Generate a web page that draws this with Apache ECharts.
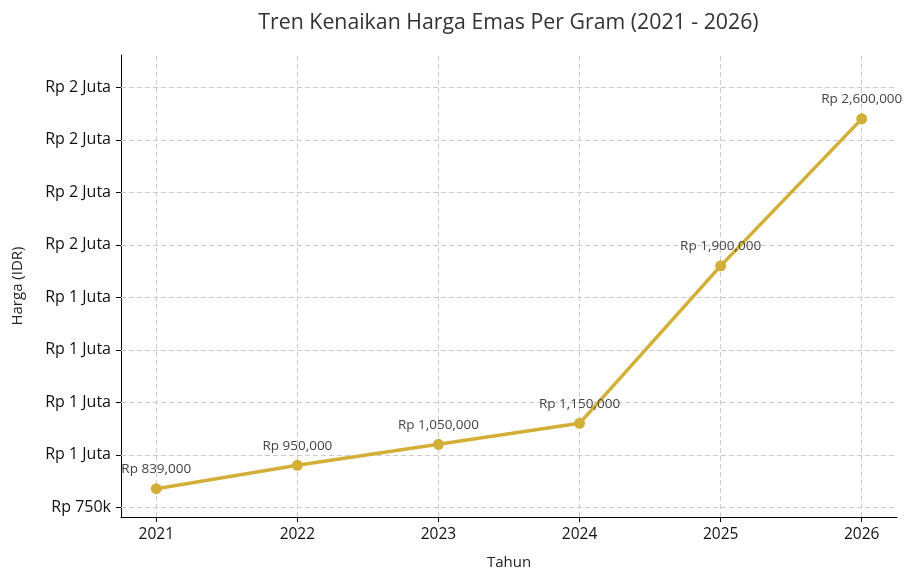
<!DOCTYPE html>
<html>
<head>
<meta charset="utf-8">
<script src="https://cdn.jsdelivr.net/npm/echarts@6/dist/echarts.min.js"></script>
<style>
html,body{margin:0;padding:0;background:#fff;}
#c{width:913px;height:583px;}
</style>
</head>
<body>
<div id="c"></div>
<script>
const years = [2021, 2022, 2023, 2024, 2025, 2026];
const prices = [839000, 950000, 1050000, 1150000, 1900000, 2600000];
const yTickValues = [750000, 1000000, 1250000, 1500000, 1750000, 2000000, 2250000, 2500000, 2750000];
const yTickLabels = ['Rp 750k', 'Rp 1 Juta', 'Rp 1 Juta', 'Rp 1 Juta', 'Rp 1 Juta', 'Rp 2 Juta', 'Rp 2 Juta', 'Rp 2 Juta', 'Rp 2 Juta'];
const titleText = 'Tren Kenaikan Harga Emas Per Gram (2021 - 2026)';

const FONT = '"Open Sans", Roboto, sans-serif';
const chart = echarts.init(document.getElementById('c'), null, {renderer: 'canvas'});
const gridColor = '#cccccc';
const labelMap = {};
yTickValues.forEach((v, i) => labelMap[v] = yTickLabels[i]);
function fmt(v){ return 'Rp ' + v.toLocaleString('en-US'); }

chart.setOption({
  animation: false,
  backgroundColor: '#ffffff',
  title: {
    text: titleText,
    left: 503.5, top: 7, textAlign: 'center',
    textStyle: {fontFamily: FONT, fontSize: 21.3, fontWeight: 'normal', color: '#333333'}
  },
  grid: {left: 121, right: 16, top: 55, bottom: 66},
  xAxis: {
    type: 'value', min: 2020.75, max: 2026.25,
    name: 'Tahun', nameLocation: 'middle', nameGap: 38,
    nameTextStyle: {fontFamily: FONT, fontSize: 15, color: '#222'},
    axisLine: {show: true, lineStyle: {color: '#000', width: 1}},
    axisTick: {show: true, length: 5, lineStyle: {color: '#000'}, customValues: years},
    axisLabel: {customValues: years, fontFamily: FONT, fontSize: 15.5, color: '#111', margin: 10,
      formatter: v => String(v)},
    splitLine: {show: false}
  },
  yAxis: {
    type: 'value', min: 704000, max: 2904000,
    name: 'Harga (IDR)', nameLocation: 'middle', nameGap: 96, nameRotate: 90,
    nameTextStyle: {fontFamily: FONT, fontSize: 15, color: '#222'},
    axisLine: {show: true, lineStyle: {color: '#000', width: 1}},
    axisTick: {show: true, length: 5, lineStyle: {color: '#000'}, customValues: yTickValues},
    axisLabel: {customValues: yTickValues, fontFamily: FONT, fontSize: 16, color: '#111', margin: 10,
      formatter: v => labelMap[v] !== undefined ? labelMap[v] : ''},
    splitLine: {show: false}
  },
  series: [
    {
      type: 'line',
      data: years.map((y, i) => [y, prices[i]]),
      symbol: 'circle', symbolSize: 11,
      lineStyle: {color: '#D4AF37', width: 3.5},
      itemStyle: {color: '#D4AF37'},
      label: {show: true, position: 'top', distance: 7,
        fontFamily: FONT, fontSize: 13.5, color: '#444',
        formatter: p => fmt(p.value[1])},
      z: 5,
      markLine: {
        silent: true, symbol: ['none', 'none'], label: {show: false},
        lineStyle: {color: gridColor, type: [5, 3], width: 1},
        animation: false,
        data: yTickValues.map(v => ({yAxis: v})).concat(years.map(y => ({xAxis: y})))
      }
    }
  ]
});
</script>
</body>
</html>
